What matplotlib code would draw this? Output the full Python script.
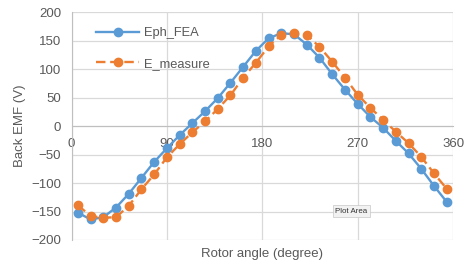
import matplotlib
matplotlib.use("Agg")
import matplotlib.pyplot as plt

# 转子角度 (degree)
angle = [6, 18, 30, 42, 54, 66, 78, 90, 102, 114, 126, 138, 150, 162, 174,
         186, 198, 210, 222, 234, 246, 258, 270, 282, 294, 306, 318, 330, 342, 354]
# 仿真结果
eph_fea = [-152, -164, -160, -143, -119, -91, -63, -39, -16, 5, 26, 49, 76, 104, 132,
           154, 163, 161, 143, 120, 91, 64, 39, 16, -3, -26, -48, -75, -105, -133]
# 实测结果
e_measure = [-139, -158, -161, -160, -140, -111, -85, -55, -32, -11, 8, 30, 54, 85, 111,
             140, 160, 163, 160, 139, 113, 85, 55, 32, 11, -10, -30, -54, -83, -110]

xticks = [0, 90, 180, 270, 360]
yticks = [-200, -150, -100, -50, 0, 50, 100, 150, 200]

plt.rcParams["font.family"] = ["Liberation Sans", "DejaVu Sans"]
txt = "#595959"

fig = plt.figure(figsize=(4.68, 2.63), dpi=100)
ax = fig.add_axes([0.1528, 0.0875, 0.8152, 0.8665])

ax.plot(angle, eph_fea, color="#5B9BD5", lw=1.7, marker="o", ms=6,
        label="Eph_FEA", zorder=3)
ax.plot(angle, e_measure, color="#ED7D31", lw=1.7, ls=(0, (4, 2)), marker="o", ms=6,
        label="E_measure", zorder=4)

ax.set_xlim(0, 360)
ax.set_ylim(-200, 200)
ax.set_xticks(xticks)
ax.set_yticks(yticks)
ax.grid(True, color="#d9d9d9", lw=0.9)
ax.set_axisbelow(True)

for s in ["top", "right"]:
    ax.spines[s].set_visible(False)
ax.spines["bottom"].set_position(("data", 0))
ax.spines["bottom"].set_color("#bfbfbf")
ax.spines["left"].set_color("#bfbfbf")
ax.tick_params(length=0, labelsize=9.5, colors=txt)
ax.tick_params(axis="x", pad=8.5)
ax.tick_params(axis="y", pad=7.5)

ax.set_ylabel("Back EMF (V)", fontsize=9.5, color=txt)
ax.yaxis.set_label_coords(-0.118, 0.5)
ax.set_xlabel("Rotor angle (degree)", fontsize=9.5, color=txt)
ax.xaxis.set_label_coords(0.5, -0.035)

leg = ax.legend(loc="upper left", bbox_to_anchor=(0.035, 0.985), frameon=False,
                fontsize=9.3, labelspacing=1.45, handlelength=3.3, handletextpad=0.4)
for t in leg.get_texts():
    t.set_color(txt)

ax.text(0.734, 0.127, "Plot Area", transform=ax.transAxes, fontsize=5.7, color="#333333",
        ha="center", va="center",
        bbox=dict(boxstyle="square,pad=0.35", fc="#f2f2f2", ec="#c8c8c8", lw=0.5))

fig.savefig("out.png", dpi=100)
